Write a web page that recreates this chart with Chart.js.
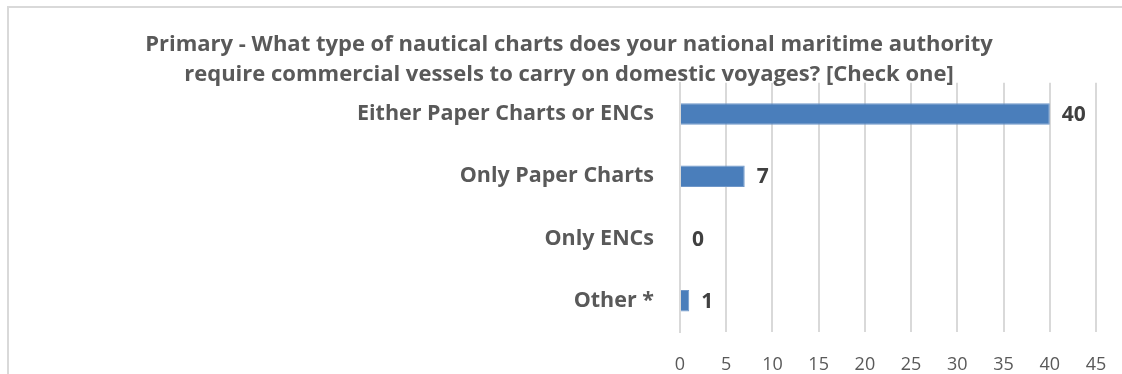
<!DOCTYPE html>
<html>
<head>
<meta charset="utf-8">
<script src="https://cdn.jsdelivr.net/npm/chart.js@4"></script>
<style>
  html, body { margin: 0; padding: 0; background: #fff; overflow: hidden; }
  #wrap { position: relative; width: 1122px; height: 374px; }
  #frame { position: absolute; left: 7px; top: 6px; width: 1130px; height: 400px;
           border: 2px solid #d9d9d9; box-sizing: border-box; pointer-events: none; }
</style>
</head>
<body>
<div id="wrap">
  <canvas id="myChart" width="1122" height="374"></canvas>
  <div id="frame"></div>
</div>
<script>
const titleLines = [
    'Primary - What type of nautical charts does your national maritime authority',
    'require commercial vessels to carry on domestic voyages? [Check one]'
];
const categories = ['Either Paper Charts or ENCs', 'Only Paper Charts', 'Only ENCs', 'Other *'];
const counts = [40, 7, 0, 1];
const xMax = 45;
const xStep = 5;

// value labels next to the bar ends
const valueLabels = {
    id: 'valueLabels',
    afterDatasetsDraw(chart) {
        const ctx = chart.ctx;
        const meta = chart.getDatasetMeta(0);
        ctx.save();
        ctx.font = 'bold 21px "Open Sans"';
        ctx.fillStyle = '#404040';
        ctx.textAlign = 'left';
        ctx.textBaseline = 'middle';
        meta.data.forEach((bar, i) => {
            ctx.fillText(String(counts[i]), bar.x + 12, bar.y + 1);
        });
        ctx.restore();
    }
};

const ctx = document.getElementById('myChart').getContext('2d');
const myChart = new Chart(ctx, {
    type: 'bar',
    data: {
        labels: categories,
        datasets: [{
            data: counts,
            backgroundColor: '#4a7ebb',
            borderColor: '#6f97c9',
            borderWidth: 1,
            barPercentage: 0.69,
            categoryPercentage: 0.5
        }]
    },
    plugins: [valueLabels],
    options: {
        indexAxis: 'y',
        responsive: false,
        animation: false,
        layout: { padding: { left: 42, top: 0, right: 26, bottom: 0 } },
        plugins: {
            legend: { display: false },
            tooltip: { enabled: false },
            title: {
                display: true,
                text: titleLines,
                color: '#595959',
                font: { family: 'Open Sans', size: 22, weight: 'bold', lineHeight: 1.36 },
                padding: { top: 30, bottom: -7 }
            }
        },
        scales: {
            x: {
                min: 0,
                max: xMax,
                ticks: {
                    stepSize: xStep,
                    color: '#595959',
                    font: { family: 'Open Sans', size: 18 },
                    padding: 22
                },
                grid: { color: '#d9d9d9', lineWidth: 2, drawTicks: false },
                border: { display: false },
                afterFit(scale) {
                    scale.height = 42;
                    scale.paddingRight = 0;
                }
            },
            y: {
                ticks: {
                    color: '#595959',
                    font: { family: 'Open Sans', size: 21.5, weight: 'bold' },
                    padding: 18
                },
                grid: { display: false },
                border: { display: true, color: '#d9d9d9', width: 2 },
                afterFit(scale) { scale.width = 638; }
            }
        }
    }
});
</script>
</body>
</html>
